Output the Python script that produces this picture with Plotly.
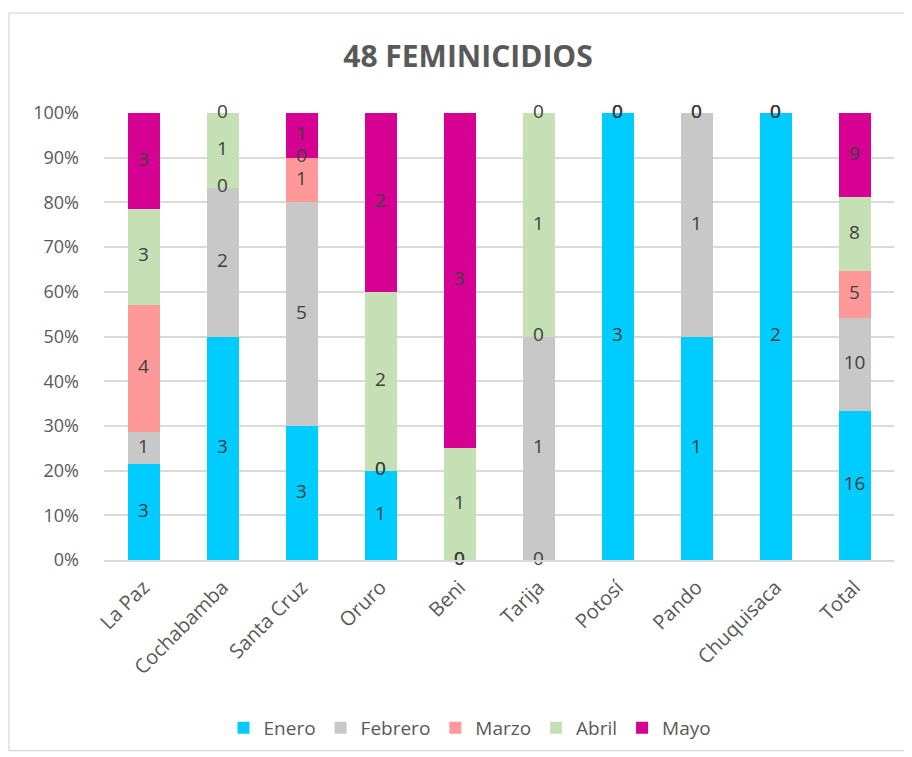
import numpy as np
import plotly.graph_objects as go

categories = ["La Paz", "Cochabamba", "Santa Cruz", "Oruro", "Beni", "Tarija",
              "Potosí", "Pando", "Chuquisaca", "Total"]
enero   = [3, 3, 3, 1, 0, 0, 3, 1, 2, 16]
febrero = [1, 2, 5, 0, 0, 1, 0, 1, 0, 10]
marzo   = [4, 0, 1, 0, 0, 0, 0, 0, 0, 5]
abril   = [3, 1, 0, 2, 1, 1, 0, 0, 0, 8]
mayo    = [3, 0, 1, 2, 3, 0, 0, 0, 0, 9]
series_names = ["Enero", "Febrero", "Marzo", "Abril", "Mayo"]
series_vals = [enero, febrero, marzo, abril, mayo]
colors = ["#00CCFF", "#C8C8C8", "#FF9999", "#C5E0B4", "#D60093"]
title_text = "48 FEMINICIDIOS"

FONT = "Open Sans, sans-serif"

fig = go.Figure()
for name, vals, col in zip(series_names, series_vals, colors):
    fig.add_trace(go.Bar(x=categories, y=vals, name=name,
                         marker=dict(color=col, line=dict(width=0))))

# data labels (counts) centred in each segment, computed from the data
arr = np.array(series_vals, dtype=float)
totals = arr.sum(axis=0)
cum = np.cumsum(arr, axis=0) - arr
for i in range(len(series_names)):
    mids = (cum[i] + arr[i] / 2) / totals * 100
    fig.add_trace(go.Scatter(
        x=categories, y=mids, mode="text", text=[str(v) for v in series_vals[i]],
        textfont=dict(family=FONT, size=19, color="#404040"),
        showlegend=False, hoverinfo="skip", cliponaxis=False))

# page body has an 8px margin: work in reference pixels, shifted by OFF
OFF = 8
W, H = 912 - OFF, 757 - OFF
L, R = 104 - OFF, 18
T = 113 - OFF
B = H - T - 448
pw, ph = W - L - R, H - T - B

def px_x(x):
    return (x - OFF - L) / pw

def px_y(y):
    return (T + ph - (y - OFF)) / ph

fig.update_layout(
    width=W, height=H,
    barmode="stack", barnorm="percent", bargap=0.595,
    margin=dict(l=L, r=R, t=T, b=B),
    paper_bgcolor="white", plot_bgcolor="white",
    font=dict(family=FONT, color="#595959", size=19),
    title=dict(text="<b>" + title_text + "</b>", x=px_x(468), xref="paper",
               y=1 - (56 - OFF) / H, yref="container", xanchor="center", yanchor="middle",
               font=dict(size=30, color="#595959", family=FONT)),
    legend=dict(orientation="h", x=px_x(470), xanchor="center",
                y=px_y(728), yanchor="middle", font=dict(size=19, color="#595959"),
                itemwidth=30, traceorder="normal"),
    showlegend=True,
    shapes=[dict(type="rect", xref="paper", yref="paper",
                 x0=px_x(9), x1=px_x(930), y0=px_y(752), y1=px_y(13),
                 line=dict(color="#D9D9D9", width=1.2), fillcolor="rgba(0,0,0,0)", layer="below")],
)
fig.update_xaxes(tickangle=-45, showgrid=False, showline=True, linecolor="#D9D9D9",
                 linewidth=1.5, ticks="", ticklabelstandoff=6,
                 tickfont=dict(size=20, color="#595959"))
fig.update_yaxes(range=[0, 100], dtick=10, ticksuffix="%", showgrid=True,
                 gridcolor="#D9D9D9", gridwidth=1.5, zeroline=False, showline=False,
                 ticks="", ticklabelstandoff=24, tickfont=dict(size=18, color="#595959"))

fig.write_html("out.html")
